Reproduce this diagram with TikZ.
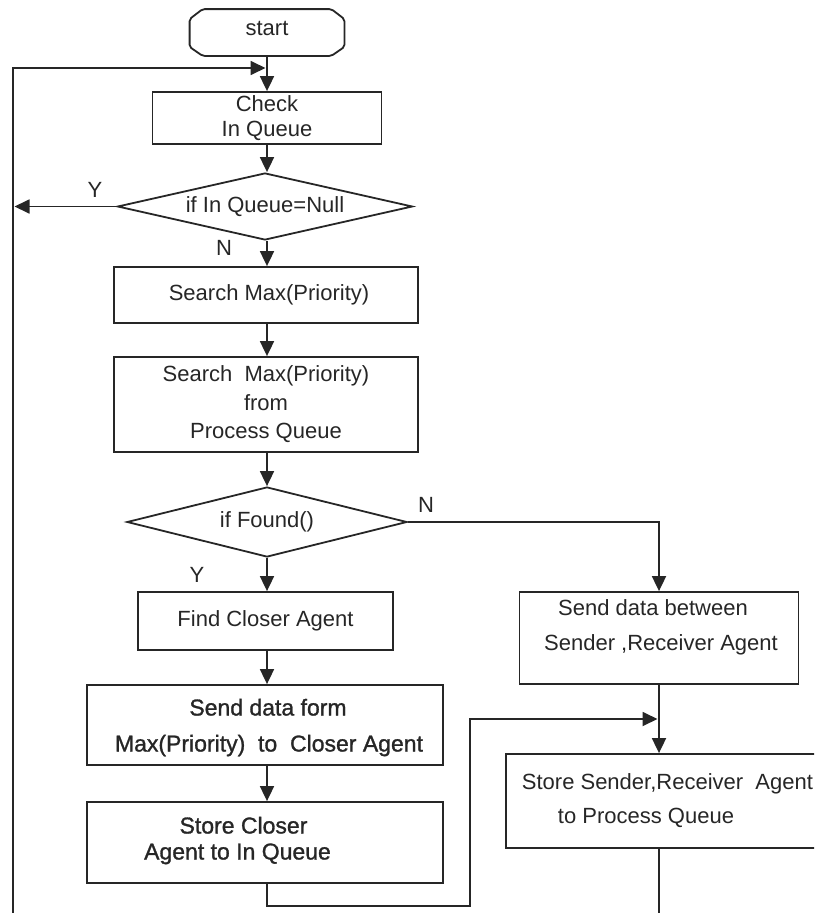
\documentclass[tikz,border=0pt]{standalone}
\usepackage{fontspec}
\setmainfont{Liberation Sans}
\newfontfamily\heavyfont[FakeBold=1.2]{Liberation Sans}
\usetikzlibrary{arrows.meta,shapes.geometric,calc}
\definecolor{ink}{HTML}{262626}

\begin{document}
\begin{tikzpicture}[x=1pt,y=-1pt,
  line width=1.8pt, draw=ink, color=ink,
  every node/.style={font=\fontsize{22}{26}\selectfont, text=ink},
  box/.style={draw, rectangle, inner sep=0pt, align=center},
  cond/.style={draw, diamond, inner sep=0pt, shape aspect=4.2},
  txt/.style={inner sep=0pt, text height=16pt, text depth=5pt},
  heavy/.style={txt, font=\heavyfont\fontsize{23}{27}\selectfont},
  lbl/.style={inner sep=0pt},
  arr/.style={-{Triangle[length=15pt,width=14pt]}},
]
\useasboundingbox (0,0) rectangle (814,913);
\clip (0,0) rectangle (814,913);

% terminal
\node[inner sep=0pt, minimum width=153pt, minimum height=45pt,
      text height=15pt, text depth=9pt] (start) at (267,32.5) {start};
\draw[rounded corners=2pt]
  ($(start.north west)+(13,0)$) -- ($(start.north east)+(-13,0)$)
  -- ($(start.north east)+(0,10)$) -- ($(start.south east)+(0,-9)$)
  -- ($(start.south east)+(-13,0)$) -- ($(start.south west)+(13,0)$)
  -- ($(start.south west)+(0,-9)$) -- ($(start.north west)+(0,10)$) -- cycle;

% main column
\node[box, minimum width=229pt, minimum height=52pt,
      font=\fontsize{22}{25}\selectfont] (check) at (267,118) {Check\\In Queue};
\node[cond, minimum width=295pt, minimum height=67pt] (d1) at (265,206.5) {if In Queue=Null};
\node[box, minimum width=304pt, minimum height=56pt] (s1) at (266,295) {\ Search Max(Priority)};
\node[box, minimum width=304pt, minimum height=95pt,
      font=\fontsize{22}{28.5}\selectfont] (s2) at (266,404.5)
      {Search\ \ Max(Priority)\\from\\Process Queue};
\node[cond, minimum width=280pt, minimum height=70pt] (d2) at (267,522) {if Found()};
\node[box, minimum width=255pt, minimum height=58pt] (find) at (265.5,621) {Find Closer Agent};
\node[box, minimum width=356pt, minimum height=80pt] (sendform) at (265,725) {};
\node[heavy] at (268,710) {Send data form};
\node[heavy] at (269,746) {Max(Priority)\ \ to\ \ Closer Agent};
\node[box, minimum width=356pt, minimum height=81pt] (storecl) at (265,842.5) {};
\node[heavy] at (243.5,828) {Store Closer};
\node[heavy] at (237.5,854) {Agent to In Queue};

% right column
\node[box, minimum width=279pt, minimum height=92pt] (senddata) at (659,638) {};
\node[txt] at (653,610) {Send data between};
\node[txt] at (661,645) {Sender ,Receiver Agent};
\node[box, minimum width=320pt, minimum height=94pt] (storesnd) at (666,801) {};
\node[txt, anchor=west] at (521,784) {Store Sender,Receiver\ \ Agent};
\node[txt] at (646,818) {to Process Queue};

% helper points
\coordinate (topjoin) at (267,68);
\coordinate (loopL) at (13,940);
\coordinate (join) at (659,719);
\coordinate (bend) at (470,906);
\coordinate (loopR) at (659,940);

% connectors
\draw (start.south) -- (topjoin);
\draw[arr] (topjoin) -- (check.north);
\draw[arr, shorten >=1.5pt] (loopL) |- (topjoin);
\draw[arr] (check.south) -- (check.south |- d1.north);
\draw[arr, shorten >=1.5pt] (d1.west) -- (d1.west -| loopL);
\draw[arr] (d1.south -| check.south) -- (check.south |- s1.north);
\draw[arr] (check.south |- s1.south) -- (check.south |- s2.north);
\draw[arr] (check.south |- s2.south) -- (d2.north);
\draw[arr] (d2.south) -- (d2.south |- find.north);
\draw[arr] (d2.south |- find.south) -- (d2.south |- sendform.north);
\draw[arr] (d2.south |- sendform.south) -- (d2.south |- storecl.north);
\draw[arr] (d2.east) -| (senddata.north);
\draw (senddata.south) -- (join);
\draw[arr] (join) -- (join |- storesnd.north);
\draw[arr, shorten >=1.5pt] (d2.south |- storecl.south) |- (bend) |- (join);
\draw (join |- storesnd.south) -- (loopR);

% branch labels
\node[lbl] at (95,190) {Y};
\node[lbl] at (224,248) {N};
\node[lbl] at (426,505) {N};
\node[lbl] at (197,575) {Y};
\end{tikzpicture}
\end{document}
